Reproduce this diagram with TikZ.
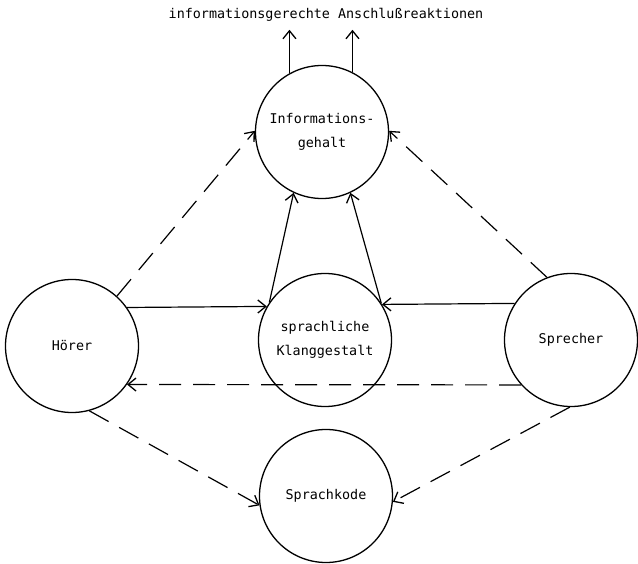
\documentclass[tikz,border=0pt]{standalone}
\usepackage{fontspec}
\newfontfamily\tw{DejaVu Sans Mono}
\usetikzlibrary{arrows.meta}
\tikzset{
  blob/.style={circle,draw,line width=1.3pt,minimum size=133pt,inner sep=0pt,align=center,font={\tw\fontsize{13.4}{24}\selectfont}},
  lbl/.style={font={\tw\fontsize{13.4}{15}\selectfont},inner sep=1pt},
  conn/.style={line width=1.2pt,-{Straight Barb[length=8pt,width=13pt,line width=1.3pt]}},
  dconn/.style={conn,dash pattern=on 22pt off 12pt}
}
\begin{document}
\begin{tikzpicture}[x=1pt,y=1pt]
\useasboundingbox (0,0) rectangle (638,-564);
\node[lbl] (title) at (326,-15) {informationsgerechte Anschlußreaktionen};
\node[blob] (info) at (322,-132) {Informations-\\gehalt};
\node[blob] (hoerer) at (72,-346) {Hörer};
\node[blob] (klang) at (325,-340) {sprachliche\\Klanggestalt};
\node[blob] (sprecher) at (571,-340) {Sprecher};
\node[blob] (kode) at (326,-496) {Sprachkode};
% upward arrows
\coordinate (t1) at ([yshift=-7pt]info.119 |- title.south);
\coordinate (t2) at ([yshift=-7pt]info.63 |- title.south);
\draw[conn] (info.119) -- (t1);
\draw[conn] (info.63) -- (t2);
% solid horizontal
\draw[conn] (hoerer.35) -- (klang.150.5);
\draw[conn] (sprecher.147.5) -- (klang.32.5);
% klang to info
\draw[conn] (klang.146) -- (info.245);
\draw[conn] (klang.33) -- (info.295.5);
% dashed
\draw[dconn] (sprecher.222.2) -- (hoerer.-35);
\draw[dconn] (hoerer.48.7) -- (info.179);
\draw[dconn] (sprecher.111.6) -- (info.1);
\draw[dconn] (hoerer.285) -- (kode.188);
\draw[dconn] (sprecher.269) -- (kode.355);
\end{tikzpicture}
\end{document}
